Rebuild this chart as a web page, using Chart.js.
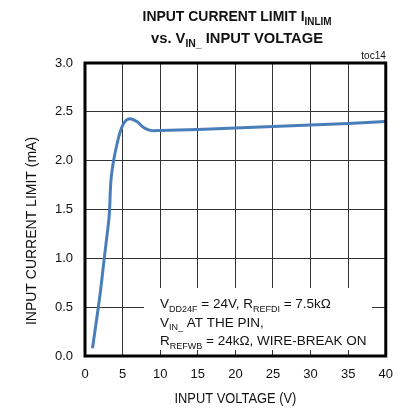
<!DOCTYPE html>
<html lang="en">
<head>
  <meta charset="UTF-8">
  <title>Input Current Limit vs. Input Voltage</title>
  <script src="https://cdn.jsdelivr.net/npm/chart.js"></script>
  <style>
    body { margin: 0; background: #fff; }
    .wrap { width: 404px; height: 414px; }
  </style>
</head>
<body>
  <div class="wrap">
    <canvas id="limitChart" width="404" height="414"></canvas>
  </div>

  <script>
    // values (V, mA)
    const voltage = [1.0, 2.0, 2.56, 2.95, 3.2, 3.3, 3.36, 3.5, 3.8, 4.2, 4.7, 5.3, 6.0, 6.9, 7.8, 8.7, 10, 15, 20, 25, 30, 35, 40];
    const currentLimit = [0.08, 0.63, 1.0, 1.25, 1.42, 1.55, 1.68, 1.84, 2.0, 2.15, 2.30, 2.40, 2.43, 2.40, 2.34, 2.31, 2.31, 2.32, 2.335, 2.35, 2.365, 2.38, 2.40];

    const xMin = 0, xMax = 40, xStep = 5;
    const yMin = 0, yMax = 3, yStep = 0.5;

    const FONT = '"Liberation Sans", Arial, sans-serif';
    const INK = '#111';

    // text pieces: [text, isSubscript]
    const titleLine1 = [['INPUT CURRENT LIMIT I', false], ['INLIM', true]];
    const titleLine2 = [['vs. V', false], ['IN_', true], [' INPUT VOLTAGE', false]];
    const noteLines = [
      [['V', false], ['DD24F', true], [' = 24V, R', false], ['REFDI', true], [' = 7.5k\u03A9', false]],
      [['V', false], ['IN_', true], [' AT THE PIN,', false]],
      [['R', false], ['REFWB', true], [' = 24k\u03A9, WIRE-BREAK ON', false]]
    ];

    function richWidth(ctx, parts, size, weight) {
      let w = 0;
      parts.forEach(([t, sub]) => {
        ctx.font = `${weight} ${sub ? Math.round(size * 0.7) : size}px ${FONT}`;
        w += ctx.measureText(t).width;
      });
      return w;
    }

    function drawRich(ctx, x, y, parts, size, weight) {
      ctx.textAlign = 'left';
      ctx.textBaseline = 'alphabetic';
      parts.forEach(([t, sub]) => {
        ctx.font = `${weight} ${sub ? Math.round(size * 0.7) : size}px ${FONT}`;
        ctx.fillText(t, x, sub ? y + size * 0.28 : y);
        x += ctx.measureText(t).width;
      });
    }

    // draws a rich line squeezed horizontally, centred on cx
    function drawCentered(ctx, cx, y, parts, size, weight, squeeze) {
      const w = richWidth(ctx, parts, size, weight) * squeeze;
      ctx.save();
      ctx.translate(cx - w / 2, y);
      ctx.scale(squeeze, 1);
      drawRich(ctx, 0, 0, parts, size, weight);
      ctx.restore();
    }

    const decorations = {
      id: 'decorations',
      beforeDatasetsDraw(chart) {
        const ctx = chart.ctx;
        // blank area behind the note
        ctx.save();
        ctx.fillStyle = '#fff';
        ctx.fillRect(144, 288, 228, 62);
        ctx.restore();
      },
      afterDraw(chart) {
        const ctx = chart.ctx;
        const a = chart.chartArea;
        ctx.save();
        ctx.fillStyle = INK;

        // title
        drawCentered(ctx, 237, 21, titleLine1, 15.5, 'bold', 0.9);
        drawCentered(ctx, 237, 43, titleLine2, 15.5, 'bold', 0.95);

        ctx.font = `10px ${FONT}`;
        ctx.textAlign = 'right';
        ctx.fillText('toc14', a.right, 59);

        // note
        noteLines.forEach((line, i) => {
          drawRich(ctx, 160, 308 + i * 18.5, line, 13.5, 'normal');
        });

        // axis titles
        ctx.font = `14px ${FONT}`;
        ctx.textAlign = 'center';
        ctx.textBaseline = 'middle';
        ctx.save();
        ctx.translate((a.left + a.right) / 2, 399);
        ctx.scale(0.92, 1);
        ctx.fillText('INPUT VOLTAGE (V)', 0, 0);
        ctx.restore();
        ctx.translate(32, 231);
        ctx.rotate(-Math.PI / 2);
        ctx.fillText('INPUT CURRENT LIMIT (mA)', 0, 0);
        ctx.restore();

        // frame
        ctx.save();
        ctx.strokeStyle = '#000';
        ctx.lineWidth = 3;
        ctx.strokeRect(a.left, a.top, a.right - a.left, a.bottom - a.top);
        ctx.restore();
      }
    };

    const ctx = document.getElementById('limitChart').getContext('2d');
    new Chart(ctx, {
      type: 'scatter',
      data: {
        datasets: [{
          data: voltage.map((v, i) => ({ x: v, y: currentLimit[i] })),
          showLine: true,
          borderColor: '#4a7ebb',
          borderWidth: 3,
          pointRadius: 0,
          tension: 0.35
        }]
      },
      options: {
        responsive: false,
        animation: false,
        layout: { padding: { top: 63, right: 18, left: 0, bottom: 0 } },
        plugins: {
          legend: { display: false },
          tooltip: { enabled: false }
        },
        scales: {
          x: {
            type: 'linear',
            min: xMin, max: xMax,
            afterFit: (s) => { s.height = 58; },
            ticks: { stepSize: xStep, padding: 11, color: INK, font: { family: FONT, size: 13 } },
            grid: { color: '#333', lineWidth: 1, drawTicks: false },
            border: { display: false }
          },
          y: {
            min: yMin, max: yMax,
            afterFit: (s) => { s.width = 85; },
            ticks: {
              stepSize: yStep, padding: 12, color: INK,
              font: { family: FONT, size: 13 },
              callback: (v) => v.toFixed(1)
            },
            grid: { color: '#333', lineWidth: 1, drawTicks: false },
            border: { display: false }
          }
        }
      },
      plugins: [decorations]
    });
  </script>
</body>
</html>
